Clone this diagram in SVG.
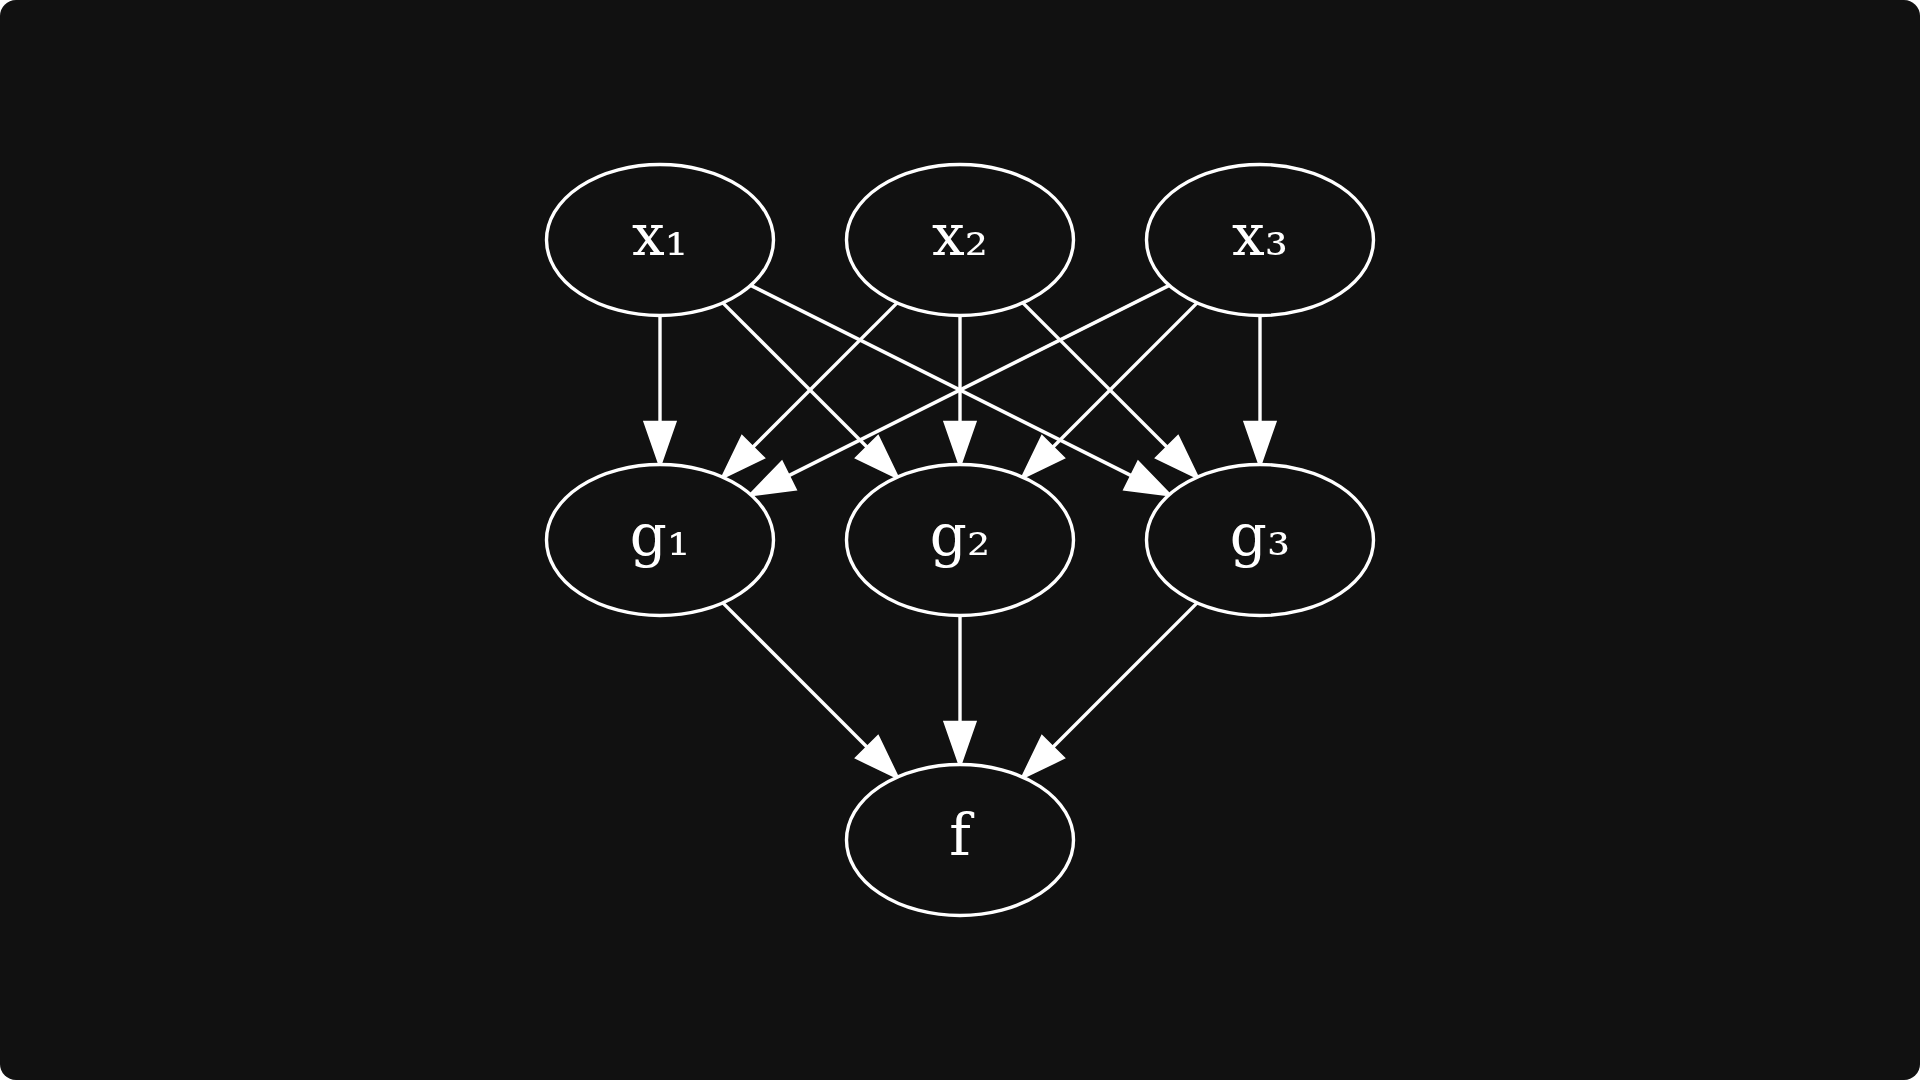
<svg xmlns="http://www.w3.org/2000/svg" width="1920" height="1080" viewBox="0 0 1920 1080">
<defs>
<style>
.node ellipse{fill:#111111;stroke:#ffffff;stroke-width:3.4}
.node text{fill:#ffffff;font-family:"DejaVu Serif","Liberation Serif",serif;font-size:58px;text-anchor:middle}
.edges line{stroke:#ffffff;stroke-width:3.4;fill:none}
</style>
<marker id="arr" markerUnits="userSpaceOnUse" viewBox="-5 -20 52 40" refX="0" refY="0" markerWidth="52" markerHeight="40" orient="auto" overflow="visible">
<path d="M0,-14.7 L42,0 L0,14.7 Z" fill="#ffffff" stroke="#ffffff" stroke-width="3.4"/>
</marker>
</defs>
<rect x="0" y="0" width="1920" height="1080" fill="#ffffff"/>
<rect x="0" y="0" width="1920" height="1080" rx="16" ry="16" fill="#111111"/>
<g class="edges">
<line x1="660" y1="315.5" x2="660" y2="422.5" marker-end="url(#arr)"/>
<line x1="722.86" y1="302.86" x2="867.44" y2="447.44" marker-end="url(#arr)"/>
<line x1="750.72" y1="285.36" x2="1131.71" y2="475.86" marker-end="url(#arr)"/>
<line x1="897.14" y1="302.86" x2="752.56" y2="447.44" marker-end="url(#arr)"/>
<line x1="960" y1="315.5" x2="960" y2="422.5" marker-end="url(#arr)"/>
<line x1="1022.86" y1="302.86" x2="1167.44" y2="447.44" marker-end="url(#arr)"/>
<line x1="1169.28" y1="285.36" x2="788.29" y2="475.86" marker-end="url(#arr)"/>
<line x1="1197.14" y1="302.86" x2="1052.56" y2="447.44" marker-end="url(#arr)"/>
<line x1="1260" y1="315.5" x2="1260" y2="422.5" marker-end="url(#arr)"/>
<line x1="722.86" y1="602.86" x2="867.44" y2="747.44" marker-end="url(#arr)"/>
<line x1="960" y1="615.5" x2="960" y2="722.5" marker-end="url(#arr)"/>
<line x1="1197.14" y1="602.86" x2="1052.56" y2="747.44" marker-end="url(#arr)"/>
</g>
<g id="x1" class="node"><ellipse cx="660" cy="240" rx="113.5" ry="75.5"/><text x="660" y="254.5">x₁</text></g>
<g id="x2" class="node"><ellipse cx="960" cy="240" rx="113.5" ry="75.5"/><text x="960" y="254.5">x₂</text></g>
<g id="x3" class="node"><ellipse cx="1260" cy="240" rx="113.5" ry="75.5"/><text x="1260" y="254.5">x₃</text></g>
<g id="g1" class="node"><ellipse cx="660" cy="540" rx="113.5" ry="75.5"/><text x="660" y="554.5">g₁</text></g>
<g id="g2" class="node"><ellipse cx="960" cy="540" rx="113.5" ry="75.5"/><text x="960" y="554.5">g₂</text></g>
<g id="g3" class="node"><ellipse cx="1260" cy="540" rx="113.5" ry="75.5"/><text x="1260" y="554.5">g₃</text></g>
<g id="f" class="node"><ellipse cx="960" cy="840" rx="113.5" ry="75.5"/><text x="960" y="855">f</text></g>
</svg>
